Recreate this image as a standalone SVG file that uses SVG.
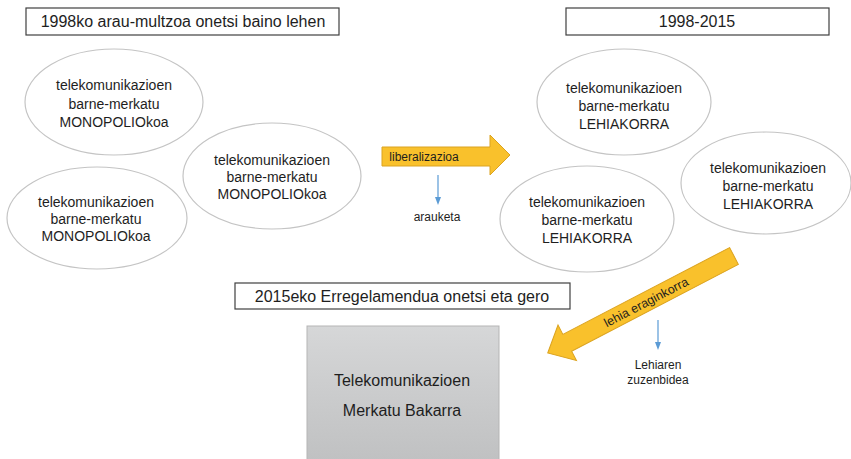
<svg xmlns="http://www.w3.org/2000/svg" width="851" height="459" viewBox="0 0 851 459">
<defs>
<linearGradient id="grey" x1="0" y1="0" x2="0" y2="1">
<stop offset="0" stop-color="#d6d7d8"/>
<stop offset="1" stop-color="#bfc0c1"/>
</linearGradient>
<marker id="bh" markerWidth="8" markerHeight="8" refX="4" refY="4" orient="auto" markerUnits="userSpaceOnUse">
<path d="M0,1 L8,4 L0,7 Z" fill="#5b9bd5"/>
</marker>
<style>
text{font-family:"Liberation Sans",Arial,sans-serif;fill:#1e1e1e;text-anchor:middle}
.t{font-size:16px}
.e{font-size:14px}
.s{font-size:12px}
.box{fill:#fff;stroke:#404040;stroke-width:1.2}
.ell{fill:#fff;stroke:#c4c4c4;stroke-width:1.2}
.ora{fill:#f9c12c;stroke:#dba320;stroke-width:1}
.blue{stroke:#5b9bd5;stroke-width:1.2;fill:none;marker-end:url(#bh)}
</style>
</defs>
<g id="title1"><rect class="box" x="26" y="8" width="313" height="27"/><text class="t" x="183" y="27">1998ko arau-multzoa onetsi baino lehen</text></g>
<g id="title2"><rect class="box" x="566" y="8" width="263" height="27"/><text class="t" x="697" y="27">1998-2015</text></g>
<g id="title3"><rect class="box" x="235" y="283" width="335" height="26"/><text class="t" x="402" y="302">2015eko Erregelamendua onetsi eta gero</text></g>
<g id="m1"><ellipse class="ell" cx="114" cy="102" rx="89" ry="53"/><text class="e" x="114" y="90">telekomunikazioen</text><text class="e" x="114" y="109">barne-merkatu</text><text class="e" x="114" y="127">MONOPOLIOkoa</text></g>
<g id="m2"><ellipse class="ell" cx="97" cy="218" rx="90" ry="51"/><text class="e" x="96" y="207">telekomunikazioen</text><text class="e" x="96" y="224">barne-merkatu</text><text class="e" x="96" y="241">MONOPOLIOkoa</text></g>
<g id="m3"><ellipse class="ell" cx="272" cy="176" rx="89" ry="53"/><text class="e" x="272" y="165">telekomunikazioen</text><text class="e" x="272" y="182">barne-merkatu</text><text class="e" x="272" y="199">MONOPOLIOkoa</text></g>
<g id="l1"><ellipse class="ell" cx="624" cy="102" rx="87" ry="53"/><text class="e" x="624" y="93">telekomunikazioen</text><text class="e" x="624" y="111">barne-merkatu</text><text class="e" x="624" y="129">LEHIAKORRA</text></g>
<g id="l2"><ellipse class="ell" cx="587" cy="219" rx="87" ry="53"/><text class="e" x="587" y="207">telekomunikazioen</text><text class="e" x="587" y="225">barne-merkatu</text><text class="e" x="587" y="243">LEHIAKORRA</text></g>
<g id="l3"><ellipse class="ell" cx="766" cy="183" rx="85" ry="51"/><text class="e" x="768" y="173">telekomunikazioen</text><text class="e" x="768" y="191">barne-merkatu</text><text class="e" x="768" y="209">LEHIAKORRA</text></g>
<g id="single"><rect x="307" y="326" width="192" height="140" fill="url(#grey)" stroke="#b5b5b5" stroke-width="1"/><text class="t" x="402" y="386">Telekomunikazioen</text><text class="t" x="402" y="416">Merkatu Bakarra</text></g>
<g id="connectors">
<polygon class="ora" points="382,147 490,147 490,135 510,155 490,175 490,166 382,166"/>
<text class="s" x="424" y="161">liberalizazioa</text>
<line class="blue" x1="438" y1="175" x2="438" y2="201"/>
<text class="s" x="437" y="221">arauketa</text>
<polygon class="ora" transform="translate(734,256) rotate(152.5)" points="0,-9.5 188,-9.5 188,-20 210,0 188,20 188,9.5 0,9.5"/>
<text class="s" transform="translate(646,302) rotate(-27.5)" x="0" y="4.5" style="font-size:12.5px">lehia eraginkorra</text>
<line class="blue" x1="658" y1="320" x2="658" y2="346"/>
<text class="s" x="658" y="369">Lehiaren</text>
<text class="s" x="658" y="384">zuzenbidea</text>
</g>
</svg>
